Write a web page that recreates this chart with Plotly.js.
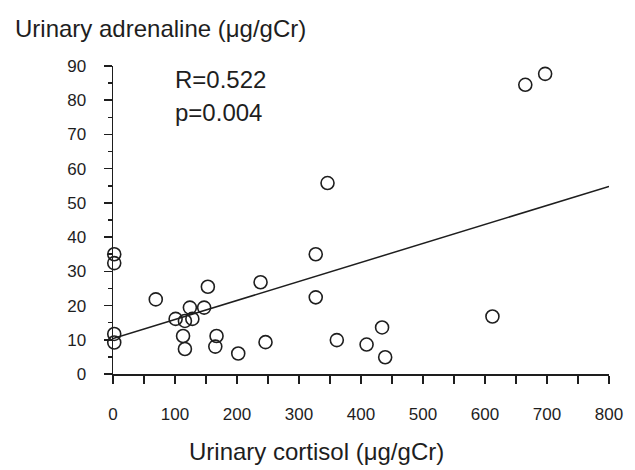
<!DOCTYPE html>
<html>
<head>
<meta charset="utf-8">
<script src="https://cdn.plot.ly/plotly-3.0.1.min.js"></script>
<style>html,body{margin:0;padding:0;background:#fff;}#chart{width:635px;height:470px;}</style>
</head>
<body>
<div id="chart"></div>
<script>
// Urinary cortisol (µg/gCr)
var cortisol = [2, 2, 2, 2, 69, 101, 116, 124, 128, 147, 153, 113, 116, 167, 165, 202, 238, 246, 327, 327, 361, 409, 434, 439, 612, 346, 665, 697];
// Urinary adrenaline (µg/gCr)
var adrenaline = [35.0, 32.4, 11.7, 9.2, 21.8, 16.1, 15.5, 19.4, 16.1, 19.4, 25.5, 11.1, 7.3, 11.1, 8.0, 6.0, 26.8, 9.3, 35.0, 22.4, 9.9, 8.6, 13.6, 4.9, 16.8, 55.8, 84.5, 87.7];
// Regression line endpoints
var fitX = [0, 800];
var fitY = [10.4, 54.8];
var xTicks = [0, 100, 200, 300, 400, 500, 600, 700, 800];
var yTicks = [0, 10, 20, 30, 40, 50, 60, 70, 80, 90];
var statLines = ["R=0.522", "p=0.004"];
var xTitle = "Urinary cortisol (\u03bcg/gCr)";
var yTitle = "Urinary adrenaline (\u03bcg/gCr)";

var FONT = "Liberation Sans, Arial, sans-serif";
var INK = "#1e1e1e";

var traces = [
  {x: fitX, y: fitY, mode: "lines", type: "scatter",
   line: {color: INK, width: 1.5}, hoverinfo: "skip", cliponaxis: false},
  {x: cortisol, y: adrenaline, mode: "markers", type: "scatter",
   marker: {symbol: "circle-open", size: 13, color: INK, line: {color: INK, width: 1.6}},
   cliponaxis: false}
];

var layout = {
  width: 635, height: 470,
  margin: {l: 113, r: 26, t: 66, b: 96},
  paper_bgcolor: "#fff", plot_bgcolor: "#fff",
  showlegend: false,
  font: {family: FONT, color: INK, size: 17},
  xaxis: {
    range: [0, 800], tickvals: xTicks, ticktext: xTicks.map(String),
    showgrid: false, zeroline: false, showline: true, linecolor: INK, linewidth: 1.5,
    ticks: "outside", ticklen: 8, tickwidth: 1.5, tickcolor: INK,
    ticklabelstandoff: 16,
    minor: {dtick: 50, ticks: "outside", ticklen: 8, tickwidth: 1.5, tickcolor: INK, showgrid: false},
    tickfont: {family: FONT, size: 17, color: INK}, fixedrange: true
  },
  yaxis: {
    range: [0, 90], tickvals: yTicks, ticktext: yTicks.map(String),
    showgrid: false, zeroline: false, showline: true, linecolor: INK, linewidth: 1.5,
    ticks: "outside", ticklen: 8, tickwidth: 1.5, tickcolor: INK,
    ticklabelstandoff: 14,
    minor: {dtick: 5, ticks: "outside", ticklen: 4, tickwidth: 1.5, tickcolor: INK, showgrid: false},
    tickfont: {family: FONT, size: 17, color: INK}, fixedrange: true
  },
  annotations: [
    {text: yTitle, xref: "paper", yref: "paper", x: (13 - 113) / 496, y: (374 - 28) / 308,
     xanchor: "left", yanchor: "middle", showarrow: false, font: {family: FONT, size: 24, color: INK}},
    {text: xTitle, xref: "paper", yref: "paper", x: (316 - 113) / 496, y: (374 - 451) / 308,
     xanchor: "center", yanchor: "middle", showarrow: false, font: {family: FONT, size: 24, color: INK}},
    {text: statLines[0], xref: "paper", yref: "paper", x: (173 - 113) / 496, y: (374 - 79) / 308,
     xanchor: "left", yanchor: "middle", showarrow: false, font: {family: FONT, size: 24, color: INK}},
    {text: statLines[1], xref: "paper", yref: "paper", x: (173 - 113) / 496, y: (374 - 112) / 308,
     xanchor: "left", yanchor: "middle", showarrow: false, font: {family: FONT, size: 24, color: INK}}
  ]
};

Plotly.newPlot("chart", traces, layout, {staticPlot: true, displayModeBar: false});
</script>
</body>
</html>
